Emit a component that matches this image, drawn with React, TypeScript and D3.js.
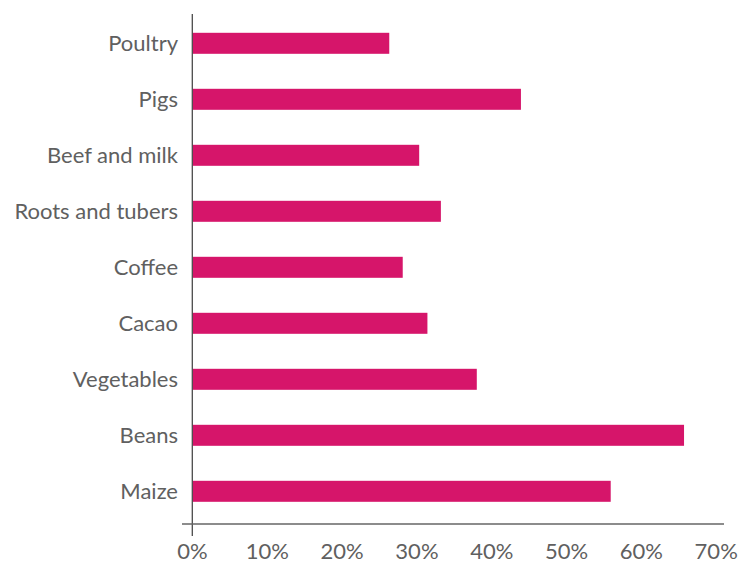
import React from "react";
import * as d3 from "d3";

const categories = ["Poultry", "Pigs", "Beef and milk", "Roots and tubers", "Coffee", "Cacao", "Vegetables", "Beans", "Maize"];
const values = [26.3, 43.9, 30.3, 33.2, 28.1, 31.4, 38.0, 65.7, 55.9];
const xTicks = [0, 10, 20, 30, 40, 50, 60, 70];

const W = 742;
const H = 564;
const FONT = "Lato, 'Noto Sans', sans-serif";
const BAR = "#d6156a";
const TEXT = "#606060";

export default function App() {
  const x = d3.scaleLinear().domain([0, 70]).range([192.5, 716.2]);
  const y = d3
    .scaleBand<string>()
    .domain(categories)
    .range([15.3, 519.3])
    .paddingInner(0.625)
    .paddingOuter(0.3125);

  return (
    <svg
      width={W}
      height={H}
      style={{ position: "absolute", left: 0, top: 0, background: "#fff" }}
      fontFamily={FONT}
    >
      {categories.map((c, i) => (
        <rect
          key={c}
          x={x(0)}
          y={y(c)!}
          width={x(values[i]) - x(0)}
          height={y.bandwidth()}
          fill={BAR}
        />
      ))}
      {categories.map((c) => (
        <text
          key={c}
          x={178}
          y={y(c)! + y.bandwidth() / 2 + 8}
          textAnchor="end"
          fontSize={22}
          fill={TEXT}
        >
          {c}
        </text>
      ))}
      <line x1={192.3} x2={192.3} y1={14} y2={536} stroke="#4a4a4a" strokeWidth={1.3} />
      <line x1={182} x2={724} y1={524} y2={524} stroke="#666" strokeWidth={1.3} />
      {xTicks.map((t) => (
        <text key={t} x={x(t)} y={559} textAnchor="middle" fontSize={22} fill={TEXT}>
          {t + "%"}
        </text>
      ))}
    </svg>
  );
}
